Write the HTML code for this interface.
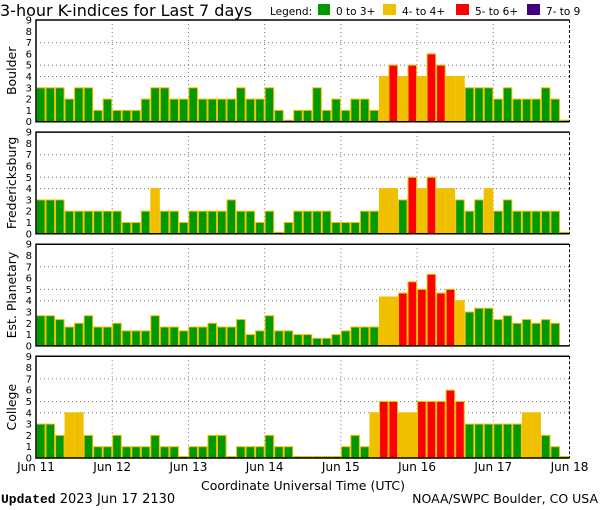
<!DOCTYPE html>
<html><head><meta charset="utf-8">
<style>
body{margin:0;background:#fff;width:600px;height:510px;overflow:hidden}
svg{display:block}
text{font-family:"DejaVu Sans","Liberation Sans",sans-serif}
</style></head>
<body>
<svg id="chart" width="600" height="510" viewBox="0 0 600 510">
<text x="0" y="16" font-size="16">3-hour K-indices for Last 7 days</text>
<g font-size="10.5">
<text x="270" y="15">Legend:</text>
<rect x="318" y="4" width="12" height="11" fill="#009900"/>
<text x="336" y="15">0 to 3+</text>
<rect x="383" y="4" width="13" height="11" fill="#f0c000"/>
<text x="402" y="15">4- to 4+</text>
<rect x="456" y="4" width="13" height="11" fill="#ff0000"/>
<text x="475" y="15">5- to 6+</text>
<rect x="527" y="4" width="13" height="11" fill="#400080"/>
<text x="546" y="15">7- to 9</text>
</g>
<text x="303" y="490" font-size="12.5" text-anchor="middle">Coordinate Universal Time (UTC)</text>
<text x="1" y="503" font-size="13"><tspan font-family="Liberation Mono,monospace" font-weight="bold">Updated</tspan> 2023 Jun 17 2130</text>
<text x="598" y="503" font-size="12.5" text-anchor="end">NOAA/SWPC Boulder, CO USA</text>
</svg>
<script>
const stations = ["Boulder","Fredericksburg","Est. Planetary","College"];
const dayLabels = ["Jun 11","Jun 12","Jun 13","Jun 14","Jun 15","Jun 16","Jun 17","Jun 18"];
const yTicks = [0,1,2,3,4,5,6,7,8,9];
const gridY = [4,5,7];
const boulder = [3,3,3,2,3,3,1,2, 1,1,1,2,3,3,2,2, 3,2,2,2,2,3,2,2, 3,1,0,1,1,3,1,2, 1,2,2,1,4,5,4,5, 4,6,5,4,4,3,3,3, 2,3,2,2,2,3,2,0];
const fredericksburg = [3,3,3,2,2,2,2,2, 2,1,1,2,4,2,2,1, 2,2,2,2,3,2,2,1, 2,0,1,2,2,2,2,1, 1,1,2,2,4,4,3,5, 4,5,4,4,3,2,3,4, 2,3,2,2,2,2,2,0];
const planetary = [2.67,2.67,2.33,1.67,2,2.67,1.67,1.67, 2,1.33,1.33,1.33,2.67,1.67,1.67,1.33, 1.67,1.67,2,1.67,1.67,2.33,1,1.33, 2.67,1.33,1.33,1,1,0.67,0.67,1, 1.33,1.67,1.67,1.67,4.33,4.33,4.67,5.67, 5,6.33,4.67,5,4,3,3.33,3.33, 2.33,2.67,2,2.33,2,2.33,2,null];
const college = [3,3,2,4,4,2,1,1, 2,1,1,1,2,1,1,0, 1,1,2,2,0,1,1,1, 2,1,1,0,0,0,0,0, 1,2,1,4,5,5,4,4, 5,5,5,6,5,3,3,3, 3,3,3,4,4,2,1,0];
const series = [boulder, fredericksburg, planetary, college];

const NS="http://www.w3.org/2000/svg";
const svg=document.getElementById('chart');
const X0=36, X1=569.5, PH=101.7;
const nBars=56;
function xScale(i){return X0+(X1-X0)*i/nBars;}
function yScale(v,top){return top+PH-PH*v/9;}
function color(v){return v<3.5?'#009900':v<4.5?'#f0c000':v<6.5?'#ff0000':'#400080';}
function mk(tag,attrs,parent){const e=document.createElementNS(NS,tag);for(const k in attrs)e.setAttribute(k,attrs[k]);(parent||svg).appendChild(e);return e;}

series.forEach((vals,p)=>{
  const top=20+p*112.1, base=top+PH;
  const g=mk('g',{});
  
  
  const lab=mk('text',{x:0,y:0,'font-size':12.5,'text-anchor':'middle',transform:`translate(16,${top+PH/2}) rotate(-90)`},g);
  lab.textContent=stations[p];
  
  
  yTicks.forEach(t=>{
    const tt=mk('text',{x:32,y:yScale(t,top)+3.5,'font-size':10,'text-anchor':'end'},g);
    tt.textContent=t;
    
    
  });
  gridY.forEach(t=>{
    const l=mk('line',{x1:X0,x2:X1,y1:yScale(t,top),y2:yScale(t,top),stroke:'#777','stroke-dasharray':'1,3'},g);
    
    
  });
  for(let d=1;d<7;d++){
    const x=xScale(d*8);
    const l=mk('line',{x1:x,x2:x,y1:top,y2:base,stroke:'#777','stroke-dasharray':'1,3'},g);
    
    
  }
  vals.forEach((v,i)=>{
    if(v===null)return;
    const x=xScale(i), w=xScale(i+1)-x;
    let y=yScale(v,top); if(base-y<1.5)y=base-1.5;
    const r=mk('rect',{x:x+0.5,y:y,width:w-1,height:base-y,fill:color(v),stroke:'#f0c000','stroke-width':1},g);
    
    
  });
  const f=mk('path',{d:`M${X1},${top}H${X0}V${base}H${X1}`,fill:'none',stroke:'#000','stroke-width':1.5},g);
  
  
  const rr=mk('line',{x1:X1,x2:X1,y1:top,y2:base,stroke:'#000','stroke-dasharray':'3,2'},g);
  
  
});
dayLabels.forEach((d,i)=>{
  const t=mk('text',{x:xScale(i*8),y:471,'font-size':12,'text-anchor':'middle'});
  t.textContent=d;
  
  
});
</script>
</body></html>
